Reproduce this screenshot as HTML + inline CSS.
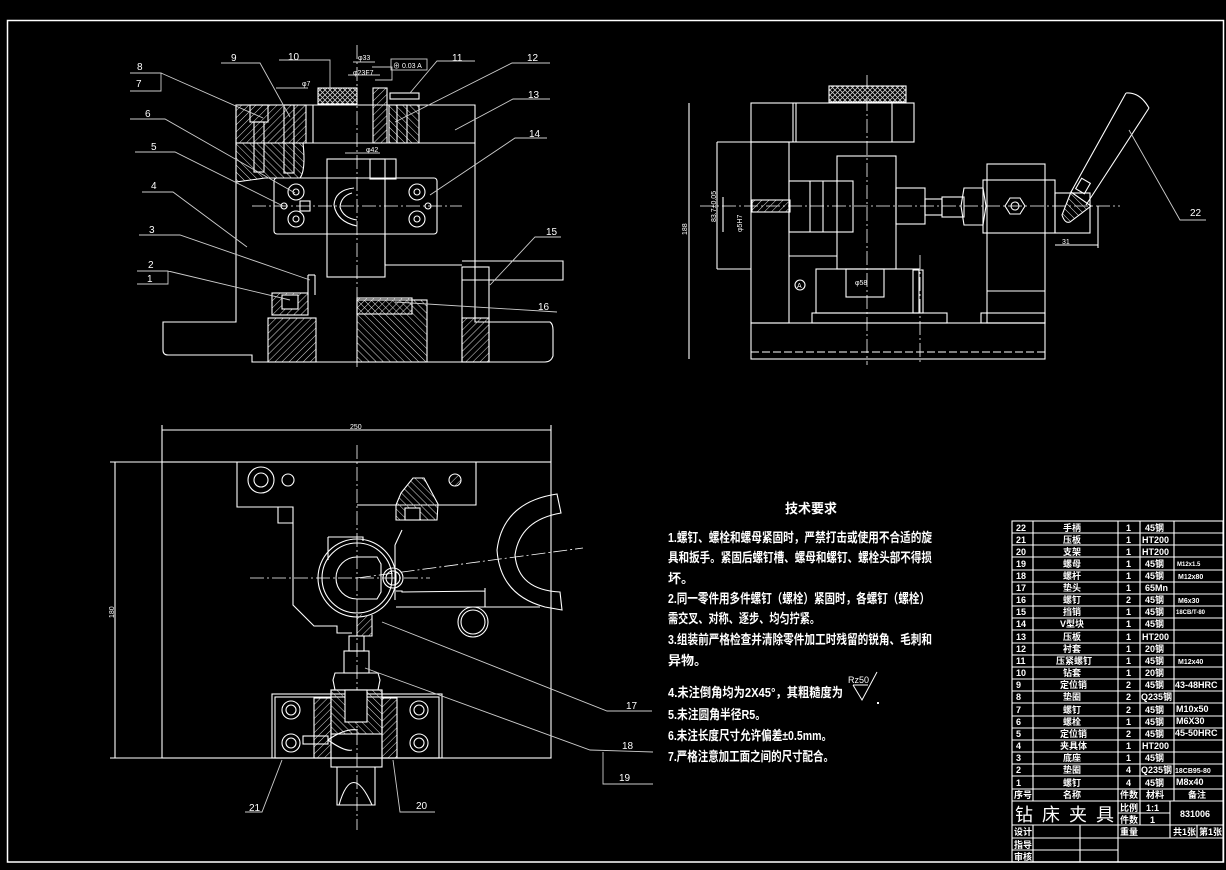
<!DOCTYPE html>
<html><head><meta charset="utf-8"><style>
html,body{margin:0;padding:0;background:#000;}
svg{display:block}
text{font-family:"Liberation Sans","Noto Sans CJK SC",sans-serif;fill:#fff}
.cn{font-family:"Liberation Sans","Noto Sans CJK SC",sans-serif;font-weight:bold}
</style></head><body>
<svg width="1226" height="870" viewBox="0 0 1226 870" xmlns="http://www.w3.org/2000/svg">
<defs>
<pattern id="h" width="5" height="5" patternUnits="userSpaceOnUse" patternTransform="rotate(45)"><line x1="0" y1="0" x2="0" y2="5" stroke="#ddd" stroke-width="1"/></pattern>
<pattern id="h2" width="5" height="5" patternUnits="userSpaceOnUse" patternTransform="rotate(-45)"><line x1="0" y1="0" x2="0" y2="5" stroke="#ddd" stroke-width="1"/></pattern>
<pattern id="k" width="5" height="5" patternUnits="userSpaceOnUse"><path d="M0 0L5 5M5 0L0 5" stroke="#ccc" stroke-width="0.8"/></pattern>
</defs>
<rect width="1226" height="870" fill="#000"/>
<g fill="none" stroke="#fff" stroke-width="1.1">
<!-- frame -->
<rect x="7.5" y="20.5" width="1216" height="841.5" stroke-width="1.5"/>

<!-- ===== TOP-LEFT VIEW ===== -->
<path d="M163 322 L236 322 L236 105 L475 105 L475 322 L550 322 Q553 324 553 330 L553 356 Q551 362 545 362 L252 362 L252 355 L168 355 Q163 355 163 350 Z"/>
<line x1="236" y1="143" x2="475" y2="143"/>
<line x1="313" y1="105" x2="313" y2="143"/>
<rect x="318" y="88" width="39" height="16" fill="url(#k)"/>
<rect x="236" y="105" width="70" height="38" fill="url(#h)"/>
<path d="M236 143 L303 143 Q306 170 300 178 L265 178 L236 182 Z" fill="url(#h2)"/>
<rect x="250" y="105" width="18" height="17"/>
<rect x="254" y="122" width="10" height="50"/>
<rect x="284" y="105" width="10" height="68"/>
<rect x="373" y="88" width="14" height="55" fill="url(#h)"/>
<rect x="389" y="105" width="30" height="38" fill="url(#h2)"/>
<rect x="390" y="93" width="29" height="6"/>
<rect x="397" y="105" width="10" height="38"/>
<rect x="274" y="178" width="163" height="56" rx="3"/>
<rect x="327" y="159" width="58" height="118"/>
<line x1="385" y1="234" x2="385" y2="265"/>
<line x1="385" y1="265" x2="462" y2="265"/>
<path d="M462 261 L563 261 L563 280 L462 280"/>
<rect x="462" y="267" width="27" height="95"/>
<rect x="462" y="318" width="27" height="44" fill="url(#h)"/>
<rect x="268" y="318" width="48" height="44" fill="url(#h)"/>
<rect x="357" y="300" width="70" height="62" fill="url(#h2)"/>
<rect x="357" y="298" width="55" height="16" fill="url(#h)"/>
<rect x="272" y="293" width="36" height="22" fill="url(#h)"/>
<rect x="282" y="295" width="16" height="14" fill="#000"/>
<rect x="370" y="159" width="26" height="20"/>
<line x1="308" y1="275" x2="308" y2="295"/><line x1="308" y1="275" x2="315" y2="275"/><line x1="315" y1="275" x2="315" y2="295"/>
<path d="M354 188 Q335 190 334 205 Q337 222 357 226"/>
<path d="M352 193 Q341 196 340 207 Q343 218 357 220"/>
<circle cx="296" cy="192" r="8"/><circle cx="296" cy="192" r="3"/>
<circle cx="296" cy="219" r="8"/><circle cx="296" cy="219" r="3"/>
<circle cx="417" cy="192" r="8"/><circle cx="417" cy="192" r="3"/>
<circle cx="417" cy="219" r="8"/><circle cx="417" cy="219" r="3"/>
<circle cx="284" cy="206" r="3"/><circle cx="428" cy="206" r="3"/>
<rect x="300" y="201" width="10" height="10"/>
</g>
<g stroke="#fff" stroke-width="0.8" stroke-dasharray="14 3 2 3" fill="none">
<line x1="357" y1="45" x2="357" y2="368"/>
<line x1="252" y1="206" x2="462" y2="206"/>
<line x1="700" y1="206" x2="1120" y2="206"/>
<line x1="867" y1="75" x2="867" y2="365"/>
<line x1="920" y1="255" x2="920" y2="365"/>
<line x1="357" y1="445" x2="357" y2="830"/>
<line x1="250" y1="578" x2="430" y2="578"/>
<line x1="357" y1="578" x2="583" y2="548"/>
</g>
<!-- leaders top-left -->
<g stroke="#ccc" stroke-width="0.9" fill="none">
<path d="M130 73 L161 73 L161 91 L130 91 M161 73 L263 118"/>
<path d="M221 63 L260 63 L290 117"/>
<path d="M279 60 L330 60 L330 88"/>
<path d="M475 61 L437 61 L410 93"/>
<path d="M550 63 L512 63 L395 122"/>
<path d="M550 99 L513 99 L455 130"/>
<path d="M547 138 L515 138 L430 195"/>
<path d="M561 237 L535 237 L490 285"/>
<path d="M395 302 L557 312"/>
<path d="M130 119 L165 119 L295 193"/>
<path d="M135 152 L175 152 L283 206"/>
<path d="M142 192 L173 192 L247 247"/>
<path d="M139 235 L180 235 L310 280"/>
<path d="M137 271 L168 271 L168 284 L137 284 M168 271 L290 300"/>
<path d="M353 62 L375 62 M348 75 L380 75 M372 67 L392 67 L392 80 L375 80"/>
<rect x="391" y="59" width="36" height="11"/>
<path d="M276 88 L308 88 M345 153 L380 153"/>
</g>
<g font-size="10">
<text x="137" y="70">8</text><text x="136" y="87">7</text>
<text x="231" y="61">9</text><text x="288" y="60">10</text><text x="452" y="61">11</text>
<text x="527" y="61">12</text><text x="528" y="98">13</text><text x="529" y="137">14</text>
<text x="546" y="235">15</text><text x="538" y="310">16</text>
<text x="145" y="117">6</text><text x="151" y="150">5</text><text x="151" y="189">4</text>
<text x="149" y="233">3</text><text x="148" y="268">2</text><text x="147" y="282">1</text>
</g>
<g font-size="7"><text x="358" y="60">φ33</text><text x="353" y="75">φ23F7</text><text x="302" y="86">φ7</text><text x="366" y="152">φ42</text><text x="393" y="68">⊕ 0.03 A</text></g>

<!-- ===== TOP-RIGHT VIEW ===== -->
<g fill="none" stroke="#fff" stroke-width="1.1">
<rect x="751" y="103" width="163" height="39"/>
<line x1="793" y1="103" x2="793" y2="142"/><line x1="796" y1="103" x2="796" y2="142"/><line x1="892" y1="103" x2="892" y2="142"/>
<rect x="829" y="86" width="77" height="16" fill="url(#k)"/>
<rect x="751" y="142" width="38" height="181"/>
<line x1="717" y1="142" x2="751" y2="142"/><line x1="717" y1="269" x2="751" y2="269"/>
<rect x="751" y="323" width="294" height="36"/>
<line x1="751" y1="352" x2="1045" y2="352" stroke-dasharray="8 3"/>
<rect x="837" y="156" width="59" height="113"/>
<rect x="789" y="181" width="64" height="51"/>
<line x1="810" y1="181" x2="810" y2="232"/><line x1="823" y1="181" x2="823" y2="232"/>
<rect x="752" y="200" width="38" height="12" fill="url(#h)"/>
<rect x="896" y="188" width="29" height="36"/>
<rect x="925" y="199" width="17" height="16"/>
<rect x="942" y="197" width="22" height="20"/>
<path d="M964 188 L983 188 L986 206 L983 225 L964 225 L961 206 Z"/>
<rect x="987" y="164" width="58" height="159"/>
<rect x="983" y="180" width="72" height="53"/>
<path d="M1005 206 l5 -8 h10 l5 8 l-5 8 h-10 z"/><circle cx="1015" cy="206" r="4"/>
<rect x="1055" y="193" width="35" height="40"/>
<rect x="816" y="269" width="103" height="44"/>
<rect x="846" y="269" width="38" height="28"/>
<rect x="812" y="313" width="135" height="10"/>
<rect x="981" y="313" width="64" height="10"/>
<rect x="913" y="270" width="10" height="43"/>
<line x1="987" y1="291" x2="1045" y2="291"/>
<line x1="789" y1="256" x2="837" y2="256"/>
<path d="M1126 93 L1071 192 M1149 108 L1086 205 M1126 93 Q1140 92 1149 108"/>
<path d="M1071 192 L1062 215 Q1065 224 1070 222 L1091 206 Z" fill="url(#h2)"/>
<rect x="1078" y="180" width="10" height="12" transform="rotate(30 1083 186)"/>
<path d="M1129 130 L1180 220 L1206 220" stroke="#ccc" stroke-width="0.9"/>
<path d="M689 103 L689 359 M717 142 L717 269 M1055 245 L1098 245 M1098 206 L1098 248 M723 197 L723 232"/>
<circle cx="800" cy="285" r="5"/>
</g>
<g font-size="7"><text x="1190" y="216" font-size="10">22</text><text x="1062" y="244">31</text><text x="855" y="285">φ58</text>
<text transform="translate(687 235) rotate(-90)">188</text><text transform="translate(716 222) rotate(-90)">83.7±0.05</text><text transform="translate(742 232) rotate(-90)">φ5H7</text><text x="797" y="288">A</text></g>

<!-- ===== BOTTOM VIEW ===== -->
<g fill="none" stroke="#fff" stroke-width="1.1">
<rect x="162" y="462" width="389" height="296"/>
<path d="M162 430 L551 430 M162 425 L162 462 M551 425 L551 462 M115 462 L115 758 M110 462 L162 462 M110 758 L162 758"/>
<path d="M237 462 L237 507 L293 507 L293 605 L314 626 L337 626 L337 633 L352 633"/>
<path d="M278 507 L278 523 L293 523"/>
<path d="M357 505 L476 505 L476 462"/>
<circle cx="357" cy="578" r="39"/><circle cx="357" cy="578" r="35"/>
<path d="M357 557 A21 21 0 1 0 357 599 L377 599 L381 592 L381 564 L377 557 Z"/>
<path d="M328 537 L328 560 M328 537 L363 537 L363 541"/>
<path d="M396 591 L402 591 L402 592 L485 591 M485 588 L485 607 M396 607 L540 607"/>
<circle cx="393" cy="578" r="10"/><circle cx="393" cy="578" r="7"/>
<circle cx="473" cy="622" r="15"/><circle cx="473" cy="622" r="12"/>
<path d="M395 545 L395 600 M395 545 L402 530"/>
<path d="M557 494 L561 513 Q520 520 515 555 Q518 590 560 592 L562 610 L545 607 Q500 595 497 550 Q503 502 557 494 Z"/>
<path d="M401 493 L413 478 L424 478 L438 504 L437 520 L396 520 L396 505 Z" fill="url(#h2)"/>
<rect x="405" y="508" width="15" height="12" fill="#000"/>
<path d="M357 614 L357 636 L372 636 L372 615" fill="url(#h)"/>
<circle cx="261" cy="480" r="13"/><circle cx="261" cy="480" r="7"/>
<circle cx="288" cy="480" r="6"/>
<circle cx="455" cy="480" r="6" fill="url(#h)"/>
<rect x="272" y="694" width="170" height="64"/>
<rect x="275" y="697" width="164" height="61"/>
<rect x="314" y="698" width="17" height="60" fill="url(#h)"/>
<rect x="382" y="698" width="15" height="60" fill="url(#h)"/>
<rect x="331" y="690" width="51" height="77"/>
<rect x="331" y="690" width="51" height="44" fill="url(#h2)"/>
<rect x="345" y="690" width="22" height="32" fill="#000" stroke="#fff"/>
<path d="M335 673 L378 673 L380 680 L378 690 L335 690 L333 680 Z"/>
<rect x="344" y="651" width="25" height="22"/>
<rect x="349" y="636" width="15" height="15"/>
<path d="M337 767 L337 805 L375 805 L375 767 M339 805 Q352 760 372 805"/>
<circle cx="291" cy="710" r="9"/><circle cx="291" cy="710" r="5"/>
<circle cx="291" cy="743" r="9"/><circle cx="291" cy="743" r="5"/>
<circle cx="419" cy="710" r="9"/><circle cx="419" cy="710" r="5"/>
<circle cx="419" cy="743" r="9"/><circle cx="419" cy="743" r="5"/>
<rect x="303" y="736" width="25" height="8"/>
<path d="M328 740 Q345 728 358 730 M328 740 Q345 752 352 750"/>
</g>
<g stroke="#ccc" stroke-width="0.9" fill="none">
<path d="M382 622 L607 711 L652 711"/>
<path d="M365 668 L590 750 L653 752 M603 752 L603 784 L653 784"/>
<path d="M393 760 L400 812 L435 812"/>
<path d="M282 760 L262 812 L245 812"/>
</g>
<g font-size="10"><text x="626" y="709">17</text><text x="622" y="749">18</text><text x="619" y="781">19</text><text x="416" y="809">20</text><text x="249" y="811">21</text></g>
<g font-size="7"><text x="350" y="429">250</text><text transform="translate(114 618) rotate(-90)">180</text></g>

<!-- ===== TECH TEXT ===== -->
<g class="cn" font-size="13">
<text x="785" y="513" textLength="52" lengthAdjust="spacingAndGlyphs">技术要求</text>
<text x="668" y="542" textLength="264" lengthAdjust="spacingAndGlyphs">1.螺钉、螺栓和螺母紧固时，严禁打击或使用不合适的旋</text>
<text x="668" y="562" textLength="264" lengthAdjust="spacingAndGlyphs">具和扳手。紧固后螺钉槽、螺母和螺钉、螺栓头部不得损</text>
<text x="668" y="583">坏。</text>
<text x="668" y="603" textLength="262" lengthAdjust="spacingAndGlyphs">2.同一零件用多件螺钉（螺栓）紧固时，各螺钉（螺栓）</text>
<text x="668" y="623" textLength="152" lengthAdjust="spacingAndGlyphs">需交叉、对称、逐步、均匀拧紧。</text>
<text x="668" y="644" textLength="264" lengthAdjust="spacingAndGlyphs">3.组装前严格检查并清除零件加工时残留的锐角、毛刺和</text>
<text x="668" y="665">异物。</text>
<text x="668" y="697" textLength="175" lengthAdjust="spacingAndGlyphs">4.未注倒角均为2X45°，其粗糙度为</text>
<text x="668" y="719" textLength="98" lengthAdjust="spacingAndGlyphs">5.未注圆角半径R5。</text>
<text x="668" y="740" textLength="164" lengthAdjust="spacingAndGlyphs">6.未注长度尺寸允许偏差±0.5mm。</text>
<text x="668" y="761" textLength="166" lengthAdjust="spacingAndGlyphs">7.严格注意加工面之间的尺寸配合。</text>
</g>
<text x="848" y="683" font-size="9">Rz50</text>
<path d="M853 685 L862 700 L877 672 M853 685 L868 685" stroke="#fff" fill="none"/>
<rect x="877" y="702" width="2" height="2" fill="#fff"/>

<!-- ===== TITLE BLOCK ===== -->
<g fill="none" stroke="#fff" stroke-width="1.1">
<rect x="1012" y="521" width="211" height="341"/>
<g id="rows">
<path d="M1012 533h211M1012 545h211M1012 557h211M1012 570h211M1012 582h211M1012 594h211M1012 606h211M1012 618h211M1012 630h211M1012 643h211M1012 655h211M1012 667h211M1012 679h211M1012 691h211M1012 703h211M1012 716h211M1012 728h211M1012 740h211M1012 752h211M1012 764h211M1012 776h211M1012 789h211M1012 801h211"/>
</g>
<path d="M1033 521V801M1118 521V862M1140 521V825M1174 521V801M1012 825h211M1118 813h52M1170 801v37M1012 838h211M1012 850h106M1033 825v37M1080 825v37M1197 825v13"/>
</g>
<g font-size="9" class="cn">
<text x="1016" y="531">22</text><text x="1063" y="531">手柄</text><text x="1126" y="531">1</text><text x="1145" y="531">45钢</text>
<text x="1016" y="543">21</text><text x="1063" y="543">压板</text><text x="1126" y="543">1</text><text x="1142" y="543">HT200</text>
<text x="1016" y="555">20</text><text x="1063" y="555">支架</text><text x="1126" y="555">1</text><text x="1142" y="555">HT200</text>
<text x="1016" y="567">19</text><text x="1063" y="567">螺母</text><text x="1126" y="567">1</text><text x="1145" y="567">45钢</text><text x="1177" y="566" font-size="6">M12x1.5</text>
<text x="1016" y="579">18</text><text x="1063" y="579">螺杆</text><text x="1126" y="579">1</text><text x="1145" y="579">45钢</text><text x="1178" y="579" font-size="7">M12x80</text>
<text x="1016" y="591">17</text><text x="1063" y="591">垫头</text><text x="1126" y="591">1</text><text x="1145" y="591">65Mn</text>
<text x="1016" y="603">16</text><text x="1063" y="603">螺钉</text><text x="1126" y="603">2</text><text x="1145" y="603">45钢</text><text x="1178" y="603" font-size="7">M6x30</text>
<text x="1016" y="615">15</text><text x="1063" y="615">挡销</text><text x="1126" y="615">1</text><text x="1145" y="615">45钢</text><text x="1176" y="614" font-size="6">18CB/T-80</text>
<text x="1016" y="627">14</text><text x="1060" y="627">V型块</text><text x="1126" y="627">1</text><text x="1145" y="627">45钢</text>
<text x="1016" y="640">13</text><text x="1063" y="640">压板</text><text x="1126" y="640">1</text><text x="1142" y="640">HT200</text>
<text x="1016" y="652">12</text><text x="1063" y="652">衬套</text><text x="1126" y="652">1</text><text x="1145" y="652">20钢</text>
<text x="1016" y="664">11</text><text x="1056" y="664">压紧螺钉</text><text x="1126" y="664">1</text><text x="1145" y="664">45钢</text><text x="1178" y="664" font-size="7">M12x40</text>
<text x="1016" y="676">10</text><text x="1063" y="676">钻套</text><text x="1126" y="676">1</text><text x="1145" y="676">20钢</text>
<text x="1016" y="688">9</text><text x="1060" y="688">定位销</text><text x="1126" y="688">2</text><text x="1145" y="688">45钢</text><text x="1175" y="688">43-48HRC</text>
<text x="1016" y="700">8</text><text x="1063" y="700">垫圈</text><text x="1126" y="700">2</text><text x="1141" y="700">Q235钢</text>
<text x="1016" y="713">7</text><text x="1063" y="713">螺钉</text><text x="1126" y="713">2</text><text x="1145" y="713">45钢</text><text x="1176" y="712">M10x50</text>
<text x="1016" y="725">6</text><text x="1063" y="725">螺栓</text><text x="1126" y="725">1</text><text x="1145" y="725">45钢</text><text x="1176" y="724">M6X30</text>
<text x="1016" y="737">5</text><text x="1060" y="737">定位销</text><text x="1126" y="737">2</text><text x="1145" y="737">45钢</text><text x="1175" y="736">45-50HRC</text>
<text x="1016" y="749">4</text><text x="1060" y="749">夹具体</text><text x="1126" y="749">1</text><text x="1142" y="749">HT200</text>
<text x="1016" y="761">3</text><text x="1063" y="761">底座</text><text x="1126" y="761">1</text><text x="1145" y="761">45钢</text>
<text x="1016" y="773">2</text><text x="1063" y="773">垫圈</text><text x="1126" y="773">4</text><text x="1141" y="773">Q235钢</text><text x="1175" y="773" font-size="7">18CB95-80</text>
<text x="1016" y="786">1</text><text x="1063" y="786">螺钉</text><text x="1126" y="786">4</text><text x="1145" y="786">45钢</text><text x="1176" y="785">M8x40</text>
<text x="1014" y="798">序号</text><text x="1063" y="798">名称</text><text x="1120" y="798">件数</text><text x="1146" y="798">材料</text><text x="1188" y="798">备注</text>
<text x="1120" y="811">比例</text><text x="1146" y="811">1:1</text><text x="1120" y="823">件数</text><text x="1150" y="823">1</text>
<text x="1180" y="817">831006</text>
<text x="1014" y="835">设计</text><text x="1120" y="835">重量</text><text x="1173" y="835">共1张</text><text x="1199" y="835">第1张</text>
<text x="1014" y="848">指导</text><text x="1014" y="860">审核</text>
</g>
<text x="1015" y="821" font-size="18" style="font-family:'Liberation Sans','Noto Sans CJK SC',sans-serif;letter-spacing:9px">钻床夹具</text>
</svg>
</body></html>
